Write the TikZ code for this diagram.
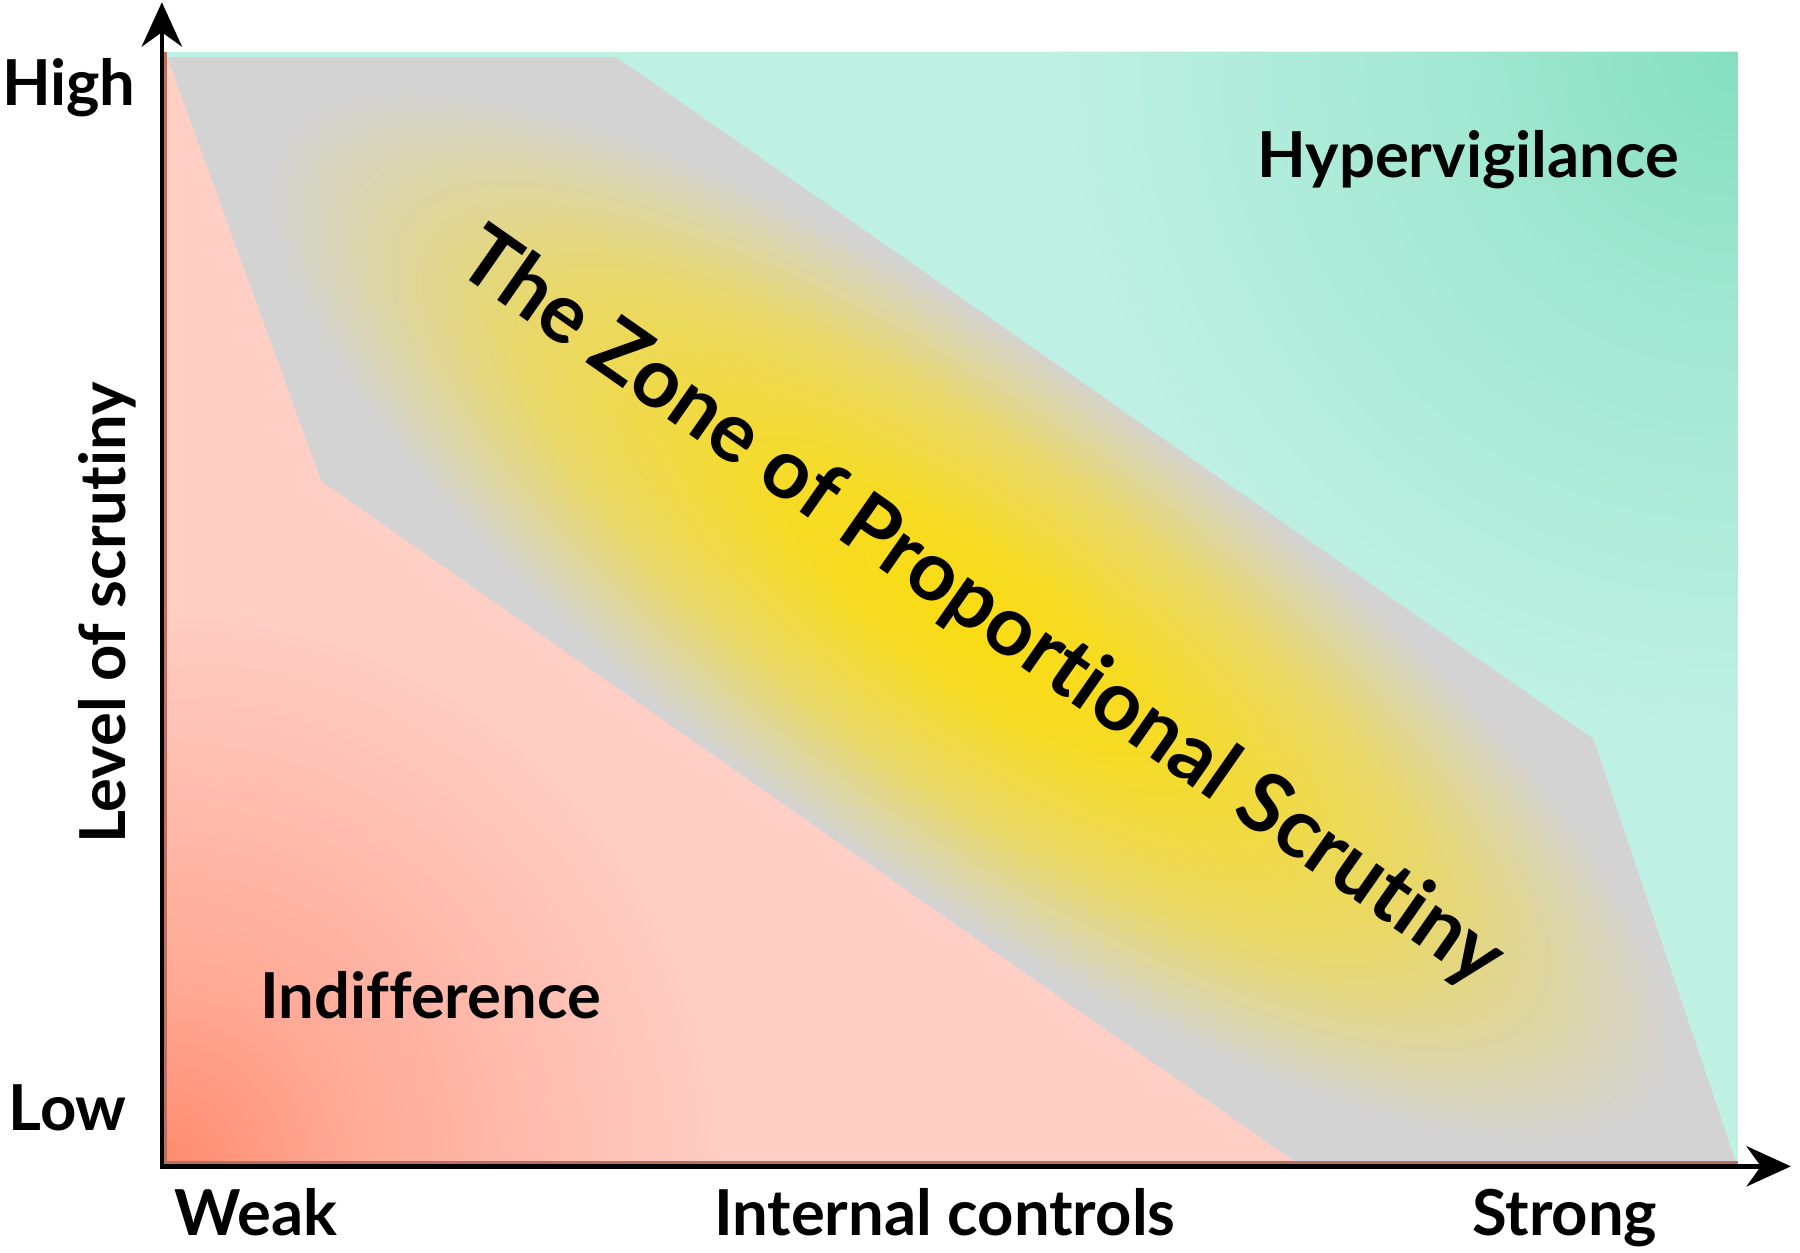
\documentclass[tikz,border=0pt]{standalone}
\usepackage{fontspec}
\setmainfont{Lato}[Ligatures=NoCommon]
\usetikzlibrary{arrows.meta}

\definecolor{lowpink}{HTML}{FFCFC6}
\definecolor{lowred}{HTML}{FF8A6E}
\definecolor{highmint}{HTML}{BFF0E4}
\definecolor{highgreen}{HTML}{84DFBF}
\definecolor{zonegray}{HTML}{D3D3D3}
\definecolor{zoneyellow}{HTML}{FADC12}
\definecolor{axisbrown}{HTML}{B8705F}

\pgfdeclareradialshading{lowglow}{\pgfpoint{0bp}{0bp}}{color(0bp)=(lowred); color(8bp)=(lowred!55!lowpink); color(25bp)=(lowpink); color(50bp)=(lowpink)}
\pgfdeclareradialshading{highglow}{\pgfpoint{0bp}{0bp}}{color(0bp)=(highgreen); color(10bp)=(highgreen!50!highmint); color(25bp)=(highmint); color(50bp)=(highmint)}
\pgfdeclareradialshading{zoneglow}{\pgfpoint{0bp}{0bp}}{color(0bp)=(zoneyellow); color(5bp)=(zoneyellow!90!zonegray); color(12bp)=(zoneyellow!55!zonegray); color(19bp)=(zonegray); color(50bp)=(zonegray)}

\tikzset{
	axisline/.style={line width=1.1pt, {Stealth[length=11pt,width=10pt]}-{Stealth[length=11pt,width=10pt]}},
	axislabel/.style={font=\fontsize{15.7}{18}\selectfont\bfseries, inner sep=0pt, anchor=base},
	zonelabel/.style={font=\fontsize{20.6}{24}\selectfont\bfseries, inner sep=0pt},
}

\begin{document}
\begin{tikzpicture}
	\useasboundingbox (0,0) rectangle (15.68,10.91);
	% chart corners and axis tips
	\coordinate (O)    at ( 1.41,  0.75);
	\coordinate (TL)   at ( 1.41, 10.46);
	\coordinate (TR)   at (15.14, 10.46);
	\coordinate (BR)   at (15.14,  0.75);
	\coordinate (ytip) at ( 1.41, 10.89);
	\coordinate (xtip) at (15.60,  0.75);
	% corners of the zone
	\coordinate (G1) at ( 1.46, 10.41);
	\coordinate (G2) at ( 5.37, 10.41);
	\coordinate (G3) at (13.88,  4.47);
	\coordinate (G4) at (15.12,  0.78);
	\coordinate (G5) at (11.30,  0.78);
	\coordinate (G6) at ( 2.80,  6.72);

	% indifference
	\begin{scope}
		\clip (O) rectangle (TR);
		\fill[lowpink] (O) rectangle (TR);
		\shade[shading=lowglow] (O) circle (5);
	\end{scope}
	% hypervigilance
	\begin{scope}
		\clip (TL) -- (TR) -- (BR) -- (G4) -- (G3) -- (G2) -- (G1) -- cycle;
		\fill[highmint] (TL) rectangle (BR);
		\shade[shading=highglow] (TR) circle (6);
	\end{scope}
	% zone of proportional scrutiny
	\begin{scope}
		\clip (G1) -- (G2) -- (G3) -- (G4) -- (G5) -- (G6) -- cycle;
		\fill[zonegray] (TL) rectangle (BR);
		\begin{scope}[transform canvas={shift={(8.45,5.55)}, rotate=-35, xscale=3.2}]
			\shade[shading=zoneglow] (0,0) circle (3);
		\end{scope}
	\end{scope}

	\draw[axisbrown, line width=0.7pt] ([xshift=1pt]TL) -- ([shift={(1pt,1pt)}]O) -- ([yshift=1pt]BR);
	\draw[axisline] (ytip) -- (O) -- (xtip);

	\node[axislabel]            (high)     at ( 0.60, 9.99) {High};
	\node[axislabel]            (low)      at ( 0.59, 1.06) {Low};
	\node[axislabel, rotate=90] (level)    at ( 1.09, 5.57) {Level of scrutiny};
	\node[axislabel]            (weak)     at ( 2.23, 0.15) {Weak};
	\node[axislabel]            (controls) at ( 8.23, 0.15) {Internal controls};
	\node[axislabel]            (strong)   at (13.63, 0.15) {Strong};
	\node[axislabel]            (hyper)    at (12.79, 9.36) {Hypervigilance};
	\node[axislabel]            (indiff)   at ( 3.75, 2.04) {Indifference};
	\node[zonelabel, rotate=-35] (zone)    at ( 8.54, 5.60) {The Zone of Proportional Scrutiny};
\end{tikzpicture}
\end{document}
